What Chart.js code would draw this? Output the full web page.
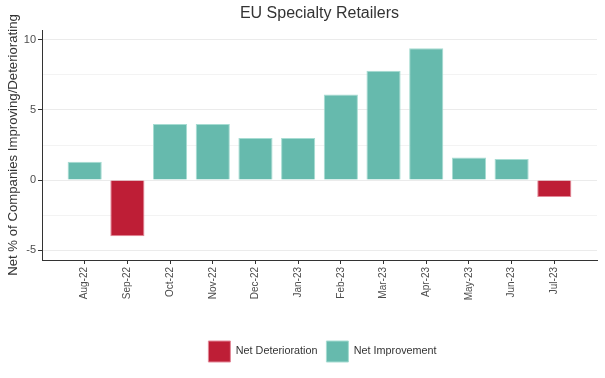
<!DOCTYPE html>
<html><head><meta charset="utf-8">
<script src="https://cdn.jsdelivr.net/npm/chart.js@4"></script>
<style>html,body{margin:0;padding:0;background:#fff}#wrap{width:605px;height:378px}</style>
</head><body><div id="wrap"><canvas id="c" width="605" height="378"></canvas></div>
<script>
const categories = ["Aug-22","Sep-22","Oct-22","Nov-22","Dec-22","Jan-23","Feb-23","Mar-23","Apr-23","May-23","Jun-23","Jul-23"];
const netValues = [1.3,-4.0,4.0,4.0,3.0,3.0,6.1,7.8,9.4,1.6,1.5,-1.2];
const yTicks = [-5,-2.5,0,2.5,5,7.5,10];
const titleText = "EU Specialty Retailers";
const yTitle = "Net % of Companies Improving/Deteriorating";
const seriesNames = ["Net Deterioration","Net Improvement"];

const detData = netValues.map((v,i)=>({x:i,y:v<0?v:null}));
const impData = netValues.map((v,i)=>({x:i,y:v>=0?v:null}));
const FONT = "'Liberation Sans', Arial, sans-serif";

const titlePlugin = {
  id:'panelTitle',
  afterLayout(chart){
    if (chart.legend) { chart.legend.left += 24; chart.legend.right += 24; }
  },
  afterDraw(chart){
    const ctx = chart.ctx, a = chart.chartArea;
    ctx.save();
    ctx.font = "16px " + FONT;
    ctx.fillStyle = "#333333";
    ctx.textAlign = "center";
    ctx.textBaseline = "middle";
    ctx.fillText(titleText, (a.left+a.right)/2, 14);
    ctx.restore();
  }
};

new Chart(document.getElementById('c'), {
  type:'bar',
  data:{datasets:[
    {label:seriesNames[0], data:detData, backgroundColor:'#BE1E36', borderColor:'#E38898', borderWidth:1, grouped:false, categoryPercentage:1, barPercentage:0.8},
    {label:seriesNames[1], data:impData, backgroundColor:'#66BAAD', borderColor:'#A6DCD2', borderWidth:1, grouped:false, categoryPercentage:1, barPercentage:0.8}
  ]},
  options:{
    responsive:false, animation:false,
    layout:{padding:{left:0,right:8,top:30,bottom:6}},
    plugins:{
      title:{display:false},
      tooltip:{enabled:false},
      legend:{position:'bottom', labels:{boxWidth:22, boxHeight:21, padding:9, color:'#333', font:{family:FONT, size:10.8}}}
    },
    scales:{
      x:{type:'linear', min:-1, max:12, offset:false,
        afterBuildTicks(s){ s.ticks = categories.map((c,i)=>({value:i})); },
        afterFit(s){ s.height = 72; },
        ticks:{autoSkip:false, minRotation:90, maxRotation:90, padding:3, color:'#4d4d4d', font:{family:FONT,size:10},
          callback:(v)=>categories[v]},
        grid:{drawOnChartArea:false, drawTicks:true, tickLength:4, tickColor:'#333', offset:false},
        border:{display:true, color:'#333', width:1}
      },
      y:{min:-5.7, max:10.7,
        afterBuildTicks(s){ s.ticks = yTicks.map(v=>({value:v})); },
        afterFit(s){ s.width = 42; },
        ticks:{padding:2, color:'#4d4d4d', font:{family:FONT,size:11},
          callback:(v)=> (v%5===0 ? String(v) : '')},
        grid:{color:(c)=> (c.tick && c.tick.value%5===0) ? '#ebebeb' : '#f3f3f3', lineWidth:1,
          tickLength:4, tickColor:(c)=> (c.tick && c.tick.value%5===0) ? '#333' : 'rgba(0,0,0,0)'},
        border:{display:true, color:'#333', width:1},
        title:{display:true, text:yTitle, color:'#333', font:{family:FONT,size:13.2}, padding:{top:5,bottom:0}}
      }
    }
  },
  plugins:[titlePlugin]
});
</script></body></html>
